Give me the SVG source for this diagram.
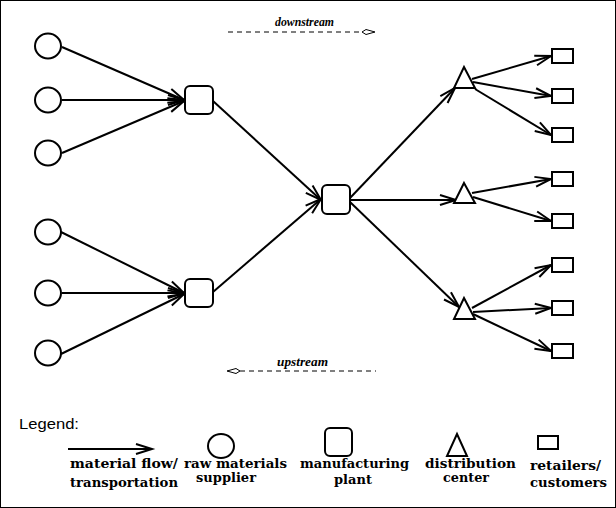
<svg xmlns="http://www.w3.org/2000/svg" width="616" height="508" viewBox="0 0 616 508">
<style>
.ln{stroke:#000;stroke-width:2;fill:none;marker-end:url(#ah)}
.sh{stroke:#000;stroke-width:2;fill:#fff}
.dash{stroke:#000;stroke-width:1;fill:none;stroke-dasharray:5 4}
.lbl{font-family:"DejaVu Serif","Liberation Serif",serif;font-weight:bold;font-size:13px;fill:#000}
.it{font-family:"Liberation Serif",serif;font-style:italic;font-weight:bold;font-size:11.5px;fill:#000}
</style>
<defs>
<marker id="ah" markerUnits="userSpaceOnUse" markerWidth="20" markerHeight="14" refX="16" refY="7" orient="auto" overflow="visible">
<path d="M0,2 L16,7 L0,12" fill="none" stroke="#000" stroke-width="2"/>
</marker>
</defs>
<rect x="0.5" y="0.5" width="615" height="507" fill="#fff" stroke="#000" stroke-width="1"/>

<g id="connectors">
<line class="ln" x1="62" y1="47" x2="184" y2="100"/>
<line class="ln" x1="62" y1="100" x2="184" y2="100"/>
<line class="ln" x1="62" y1="153" x2="184" y2="101"/>
<line class="ln" x1="61" y1="232" x2="184" y2="293"/>
<line class="ln" x1="62" y1="293" x2="184" y2="293"/>
<line class="ln" x1="61" y1="354" x2="184" y2="294"/>
<line class="ln" x1="213" y1="101" x2="321" y2="200"/>
<line class="ln" x1="213" y1="292" x2="321" y2="199"/>
<line class="ln" x1="350" y1="198" x2="455" y2="88"/>
<line class="ln" x1="350" y1="200" x2="456" y2="200"/>
<line class="ln" x1="350" y1="202" x2="459" y2="307"/>
<line class="ln" x1="472" y1="79" x2="551" y2="56"/>
<line class="ln" x1="473" y1="82" x2="551" y2="96"/>
<line class="ln" x1="475" y1="89" x2="551" y2="135"/>
<line class="ln" x1="472" y1="193" x2="551" y2="179"/>
<line class="ln" x1="473" y1="197" x2="551" y2="221"/>
<line class="ln" x1="472" y1="308" x2="551" y2="265"/>
<line class="ln" x1="473" y1="312" x2="551" y2="308"/>
<line class="ln" x1="473" y1="314" x2="551" y2="351"/>
</g>

<g id="supplier1"><ellipse class="sh" cx="48" cy="46" rx="13" ry="12.5"/></g>
<g id="supplier2"><ellipse class="sh" cx="48" cy="100" rx="13" ry="12.5"/></g>
<g id="supplier3"><ellipse class="sh" cx="48" cy="153" rx="13" ry="12.5"/></g>
<g id="supplier4"><ellipse class="sh" cx="48" cy="232" rx="13" ry="12.5"/></g>
<g id="supplier5"><ellipse class="sh" cx="48" cy="293" rx="13" ry="12.5"/></g>
<g id="supplier6"><ellipse class="sh" cx="48" cy="353" rx="13" ry="12.5"/></g>

<g id="plant1"><rect class="sh" x="185" y="86" width="28" height="28" rx="5"/></g>
<g id="plant2"><rect class="sh" x="185" y="279" width="28" height="28" rx="5"/></g>
<g id="plant3"><rect class="sh" x="322" y="185" width="28" height="29" rx="5"/></g>

<g id="dc1"><polygon class="sh" points="464,67 475,88 454,88"/></g>
<g id="dc2"><polygon class="sh" points="464,183 475,203 454,203"/></g>
<g id="dc3"><polygon class="sh" points="464,298 475,319 454,319"/></g>

<g id="retailer1"><rect class="sh" x="552" y="49" width="21" height="14"/></g>
<g id="retailer2"><rect class="sh" x="552" y="89" width="21" height="14"/></g>
<g id="retailer3"><rect class="sh" x="552" y="128" width="21" height="14"/></g>
<g id="retailer4"><rect class="sh" x="552" y="172" width="21" height="14"/></g>
<g id="retailer5"><rect class="sh" x="552" y="214" width="21" height="14"/></g>
<g id="retailer6"><rect class="sh" x="552" y="258" width="21" height="14"/></g>
<g id="retailer7"><rect class="sh" x="552" y="301" width="21" height="14"/></g>
<g id="retailer8"><rect class="sh" x="552" y="344" width="21" height="14"/></g>

<g id="downstream">
<text class="it" x="275" y="26" textLength="59" lengthAdjust="spacingAndGlyphs">downstream</text>
<line class="dash" x1="228" y1="32" x2="362" y2="32"/>
<polygon points="362,32 366,29.5 375,32 366,34.5" fill="#fff" stroke="#000" stroke-width="1"/>
</g>
<g id="upstream">
<text class="it" x="277" y="366" textLength="51" lengthAdjust="spacingAndGlyphs">upstream</text>
<line class="dash" x1="240" y1="371" x2="376" y2="371"/>
<polygon points="240,371 236,368.5 227,371 236,373.5" fill="#fff" stroke="#000" stroke-width="1"/>
</g>

<g id="legend">
<text x="19" y="429" font-family="Liberation Sans, Arial, sans-serif" font-size="15" fill="#000" textLength="60" lengthAdjust="spacingAndGlyphs">Legend:</text>
<line class="ln" x1="68" y1="449" x2="152" y2="449"/>
<ellipse class="sh" cx="221" cy="446" rx="13" ry="12"/>
<rect class="sh" x="325" y="428" width="27" height="28" rx="5"/>
<polygon class="sh" points="457,434 467,456 447,456"/>
<rect class="sh" x="538" y="436" width="20" height="13"/>
<text class="lbl" x="70" y="468" textLength="108" lengthAdjust="spacingAndGlyphs">material flow/</text>
<text class="lbl" x="70" y="487" textLength="108" lengthAdjust="spacingAndGlyphs">transportation</text>
<text class="lbl" x="184" y="468" textLength="103" lengthAdjust="spacingAndGlyphs">raw materials</text>
<text class="lbl" x="196" y="482" textLength="60" lengthAdjust="spacingAndGlyphs">supplier</text>
<text class="lbl" x="300" y="468" textLength="109" lengthAdjust="spacingAndGlyphs">manufacturing</text>
<text class="lbl" x="353" y="484" text-anchor="middle">plant</text>
<text class="lbl" x="425" y="468" textLength="91" lengthAdjust="spacingAndGlyphs">distribution</text>
<text class="lbl" x="443" y="482" textLength="46" lengthAdjust="spacingAndGlyphs">center</text>
<text class="lbl" x="530" y="470" textLength="71" lengthAdjust="spacingAndGlyphs">retailers/</text>
<text class="lbl" x="530" y="487" textLength="77" lengthAdjust="spacingAndGlyphs">customers</text>
</g>
</svg>
